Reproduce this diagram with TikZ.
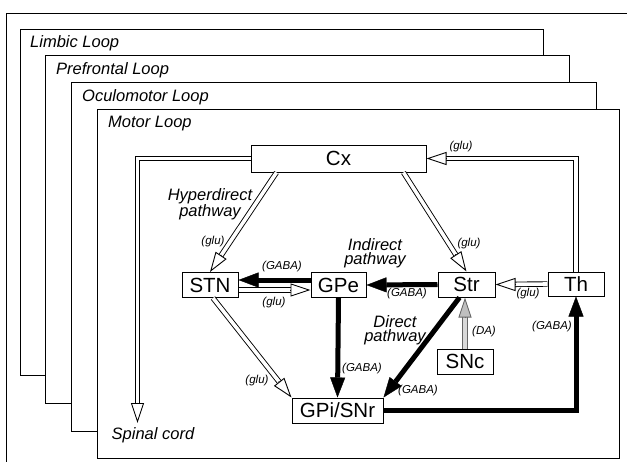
\documentclass[tikz,border=0pt]{standalone}
\usepackage{fontspec}
\setmainfont{Liberation Sans}
\usetikzlibrary{arrows.meta,calc}
\begin{document}
\begin{tikzpicture}[x=1pt,y=-1pt,
  frame/.style={draw, line width=0.8pt, fill=white},
  looplabel/.style={anchor=west, inner sep=0pt, font=\fontsize{16.5}{18}\selectfont\itshape},
  box/.style={draw, line width=1pt, fill=white, inner sep=0pt, minimum height=25pt, minimum width=56pt, font=\fontsize{20.5}{22}\selectfont},
  pathlbl/.style={inner sep=0pt, align=center, font=\fontsize{16.5}{14.2}\selectfont\itshape},
  tx/.style={inner sep=0pt, font=\fontsize{11.5}{12}\selectfont\itshape},
  hshaft/.style={line width=0.9pt, double=white, double distance=3.6pt, shorten >=17pt},
  hhead/.style={line width=0.9pt, -{Triangle[length=20pt,width=13pt,fill=white]}},
  gshaft/.style={draw=black!60, line width=0.9pt, double=black!15, double distance=3.6pt, shorten >=17pt},
  ghead/.style={draw=black!60, line width=0.9pt, -{Triangle[length=20pt,width=13pt,fill=black!25]}},
  bshaft/.style={line width=5pt, -{Triangle[length=20pt,width=15pt,line width=0.4pt]}},
]
\useasboundingbox (0,0) rectangle (627,461);
\clip (0,0) rectangle (627,461);
\fill[white] (0,0) rectangle (627,461);
% stacked frames
\draw[frame] (6,13) rectangle (640,475);
\draw[frame] (20,29) rectangle (543,375);
\draw[frame] (45,55) rectangle (569,403);
\draw[frame] (71,82) rectangle (596,431);
\draw[frame] (97,109) rectangle (619,458);
\node[looplabel] (l1) at (30,43) {Limbic Loop};
\node[looplabel] (l2) at (56,70) {Prefrontal Loop};
\node[looplabel] (l3) at (82,97) {Oculomotor Loop};
\node[looplabel] (l4) at (108,124) {Motor Loop};
% boxes
\node[box, minimum width=175pt, minimum height=27pt] (cx) at (338.5,158.5) {Cx};
\node[box] (stn) at (210,285) {STN};
\node[box, minimum width=55pt] (gpe) at (338.5,285) {GPe};
\node[box, minimum width=57pt] (str) at (466.5,284.5) {Str};
\node[box, minimum height=24pt] (th) at (576,284) {Th};
\node[box] (snc) at (465,361.5) {SNc};
\node[box, minimum width=91pt] (gpi) at (337.5,410.5) {GPi/SNr};
\coordinate (sc) at (137.5,423);
% hollow (glutamatergic) arrows
\draw[hshaft] ($(cx.south west)+(26,0)$) -- (stn.north);
\draw[hhead] ($(stn.north)!20.5pt!($(cx.south west)+(26,0)$)$) -- (stn.north);
\draw[hshaft] ($(cx.south east)+(-23,0)$) -- (str.north);
\draw[hhead] ($(str.north)!20.5pt!($(cx.south east)+(-23,0)$)$) -- (str.north);
\draw[hshaft] (th.north) |- (cx.east);
\draw[hhead] ($(cx.east)+(20.5,0)$) -- (cx.east);
\draw[hshaft] (th.west) -- (str.east);
\draw[hhead] ($(str.east)+(20.5,0)$) -- (str.east);
\draw[hshaft] ($(stn.east)+(0,5)$) -- ($(gpe.west)+(0,5)$);
\draw[hhead] ($(gpe.west)+(-20.5,5)$) -- ($(gpe.west)+(0,5)$);
\draw[hshaft] ($(stn.south)+(3,0)$) -- (gpi.north west);
\draw[hhead] ($(gpi.north west)!20.5pt!($(stn.south)+(3,0)$)$) -- (gpi.north west);
\draw[hshaft] (cx.west) -| (sc);
\draw[hhead] ($(sc)+(0,-20.5)$) -- (sc);
% dopaminergic arrow
\draw[gshaft] (snc.north) -- (snc.north |- str.south);
\draw[ghead] ($(snc.north |- str.south)+(0,20.5)$) -- (snc.north |- str.south);
% black (GABAergic) arrows
\draw[bshaft] ($(gpe.west)+(0,-5)$) -- ($(stn.east)+(0,-5)$);
\draw[bshaft] (str.west) -- (gpe.east);
\draw[bshaft] (gpe.south) -- (gpi.north);
\draw[bshaft] ($(str.south)+(-7,0)$) -- (gpi.north east);
\draw[bshaft] (gpi.east) -| (th.south);
% pathway labels
\node[pathlbl] (hyp) at (210,204.5) {Hyperdirect\\pathway};
\node[pathlbl] (ind) at (375,253.5) {Indirect\\pathway};
\node[pathlbl] (dir) at (395,330) {Direct\\pathway};
\node[pathlbl] (spc) at (153,435) {Spinal cord};
% transmitter labels
\node[tx] (t1) at (213,242) {(glu)};
\node[tx] (t2) at (469,244) {(glu)};
\node[tx] (t3) at (461,147) {(glu)};
\node[tx] (t4) at (528,294) {(glu)};
\node[tx] (t5) at (407,294) {(GABA)};
\node[tx] (t6) at (282,267) {(GABA)};
\node[tx] (t7) at (274,303) {(glu)};
\node[tx] (t8) at (257,381) {(glu)};
\node[tx] (t9) at (362,369) {(GABA)};
\node[tx] (t10) at (418,391) {(GABA)};
\node[tx] (t11) at (484,332) {(DA)};
\node[tx] (t12) at (552,327) {(GABA)};
\end{tikzpicture}
\end{document}
